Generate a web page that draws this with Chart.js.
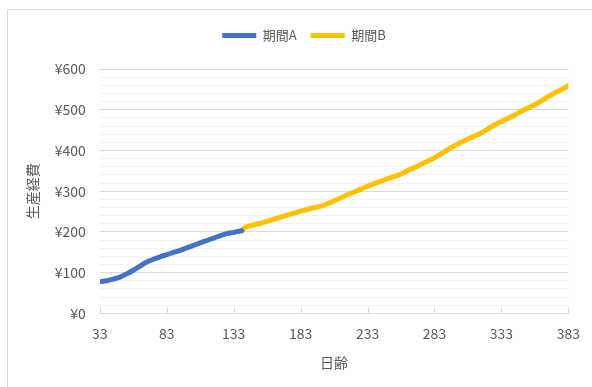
<!DOCTYPE html>
<html>
<head>
<meta charset="utf-8">
<script src="https://cdn.jsdelivr.net/npm/chart.js@4/dist/chart.umd.min.js"></script>
<style>
  html, body { margin: 0; padding: 0; background: #fff; }
  #wrap { position: relative; width: 592px; height: 387px; overflow: hidden; }
  #frame { position: absolute; left: 7px; top: 9px; width: 600px; height: 400px; border: 1px solid #d9d9d9; box-sizing: border-box; }
  canvas { position: absolute; left: 0; top: 0; }
</style>
</head>
<body>
<div id="wrap">
  <div id="frame"></div>
  <canvas id="grafico" width="592" height="387"></canvas>
</div>
<script>
// 期間A / 期間B の日齢ごとの生産経費
const diasA = [33, 38, 43, 48, 53, 58, 63, 68, 73, 78, 83, 88, 93, 98, 103, 108, 113, 118, 123, 128, 133, 139];
const custoA = [78, 80, 84, 89, 97, 106, 116, 126, 133, 139, 144, 150, 155, 161, 167, 173, 179, 185, 191, 196, 199, 203];

const diasB = [139, 142, 145, 150, 155, 160, 165, 170, 175, 180, 185, 190, 195, 200, 205, 210, 215, 220, 225, 230,
    235, 240, 245, 250, 255, 260, 265, 270, 275, 280, 285, 290, 295, 300, 305, 310, 315, 320, 325, 330,
    335, 340, 345, 350, 355, 360, 365, 370, 375, 380, 383];
const custoB = [203, 212, 215, 219, 223, 228, 233, 238, 243, 248, 253, 257, 261, 265, 272, 279, 287, 294, 301, 308,
    315, 321, 327, 333, 338, 345, 354, 361, 369, 377, 386, 396, 406, 415, 423, 431, 438, 447, 457, 466,
    474, 482, 491, 500, 508, 516, 526, 536, 545, 553, 559];

const ticksX = [33, 83, 133, 183, 233, 283, 333, 383];
const nomesSeries = ['期間A', '期間B'];
const tituloX = '日齢';
const tituloY = '生産経費';

const fonte = "'Noto Sans CJK JP', 'Noto Sans', sans-serif";
const cinza = '#595959';

const pontos = (xs, ys) => xs.map((x, i) => ({ x, y: ys[i] }));

// espaço extra abaixo da legenda e legenda centrada na área do gráfico
const ajusteLegenda = {
    id: 'ajusteLegenda',
    beforeInit(chart) {
        const fitOriginal = chart.legend.fit;
        chart.legend.fit = function () {
            fitOriginal.bind(chart.legend)();
            this.height += 17;
        };
    },
    afterLayout(chart) {
        chart.legend.left += 9;
        chart.legend.right += 9;
    }
};

// marcas de tick para dentro do eixo X
const ticksInternos = {
    id: 'ticksInternos',
    afterDatasetsDraw(chart) {
        const { ctx, scales: { x }, chartArea } = chart;
        ctx.save();
        ctx.strokeStyle = '#d9d9d9';
        ctx.lineWidth = 1;
        ticksX.forEach(v => {
            const px = Math.round(x.getPixelForValue(v)) + 0.5;
            ctx.beginPath();
            ctx.moveTo(px, chartArea.bottom);
            ctx.lineTo(px, chartArea.bottom - 6);
            ctx.stroke();
        });
        ctx.restore();
    }
};

const ctx = document.getElementById('grafico').getContext('2d');
new Chart(ctx, {
    type: 'line',
    data: {
        datasets: [{
            label: nomesSeries[0],
            data: pontos(diasA, custoA),
            borderColor: '#4472C4',
            backgroundColor: '#4472C4',
            borderWidth: 5,
            borderCapStyle: 'round',
            borderJoinStyle: 'round',
            pointRadius: 0,
            pointStyle: 'line',
            tension: 0.3
        }, {
            label: nomesSeries[1],
            data: pontos(diasB, custoB),
            borderColor: '#FFC000',
            backgroundColor: '#FFC000',
            borderWidth: 5,
            borderCapStyle: 'round',
            borderJoinStyle: 'round',
            pointRadius: 0,
            pointStyle: 'line',
            tension: 0.3
        }]
    },
    options: {
        responsive: false,
        animation: false,
        layout: { padding: { left: 20, right: 22, top: 15, bottom: 12 } },
        plugins: {
            tooltip: { enabled: false },
            legend: {
                position: 'top',
                labels: {
                    usePointStyle: true,
                    pointStyleWidth: 34,
                    color: cinza,
                    font: { family: fonte, size: 13 },
                    padding: 14
                }
            }
        },
        scales: {
            x: {
                type: 'linear',
                min: 33,
                max: 383,
                afterBuildTicks: scale => { scale.ticks = ticksX.map(value => ({ value })); },
                grid: { display: false, drawTicks: false },
                border: { display: true, color: '#d9d9d9', width: 1 },
                ticks: { color: cinza, font: { family: fonte, size: 14 }, padding: 12, maxRotation: 0 },
                title: { display: true, text: tituloX, color: cinza, font: { family: fonte, size: 14 }, padding: { top: 0 } }
            },
            y: {
                min: 0,
                max: 600,
                ticks: {
                    stepSize: 20,
                    autoSkip: false,
                    color: cinza,
                    font: { family: fonte, size: 14 },
                    padding: 14,
                    callback: v => (v % 100 === 0 ? '¥' + v : '')
                },
                grid: {
                    drawTicks: false,
                    color: c => (c.tick && c.tick.value % 100 === 0 ? '#d9d9d9' : '#f2f2f2')
                },
                border: { display: false },
                title: { display: true, text: tituloY, color: cinza, font: { family: fonte, size: 14 }, padding: { bottom: 0 } }
            }
        }
    },
    plugins: [ajusteLegenda, ticksInternos]
});
</script>
</body>
</html>
